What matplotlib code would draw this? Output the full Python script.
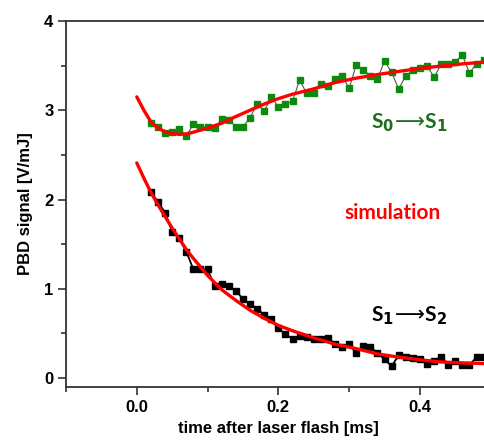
import matplotlib
matplotlib.use("Agg")
import matplotlib.pyplot as plt
from matplotlib.ticker import MultipleLocator

# measured data (time in ms)
t_data = [0.02, 0.03, 0.04, 0.05, 0.06, 0.07, 0.08, 0.09, 0.10, 0.11,
          0.12, 0.13, 0.14, 0.15, 0.16, 0.17, 0.18, 0.19, 0.20, 0.21,
          0.22, 0.23, 0.24, 0.25, 0.26, 0.27, 0.28, 0.29, 0.30, 0.31,
          0.32, 0.33, 0.34, 0.35, 0.36, 0.37, 0.38, 0.39, 0.40, 0.41,
          0.42, 0.43, 0.44, 0.45, 0.46, 0.47, 0.48, 0.49]

s0s1 = [2.854, 2.809, 2.748, 2.760, 2.790, 2.715, 2.843, 2.812, 2.816, 2.801,
        2.899, 2.891, 2.816, 2.816, 2.917, 3.070, 2.992, 3.145, 3.040, 3.070,
        3.100, 3.339, 3.190, 3.190, 3.291, 3.275, 3.347, 3.387, 3.246, 3.507,
        3.451, 3.387, 3.350, 3.552, 3.425, 3.238, 3.387, 3.448, 3.470, 3.499,
        3.369, 3.515, 3.515, 3.544, 3.619, 3.417, 3.522, 3.560]

s1s2 = [2.087, 1.975, 1.852, 1.639, 1.565, 1.415, 1.218, 1.218, 1.218, 1.031,
        1.053, 1.031, 0.978, 0.885, 0.829, 0.777, 0.706, 0.658, 0.557, 0.493,
        0.440, 0.471, 0.456, 0.440, 0.440, 0.452, 0.381, 0.347, 0.381, 0.277,
        0.359, 0.344, 0.283, 0.210, 0.134, 0.254, 0.232, 0.224, 0.210, 0.157,
        0.194, 0.239, 0.149, 0.187, 0.149, 0.149, 0.232, 0.239]

# simulation curves
t_sim = [0.00, 0.01, 0.02, 0.03, 0.04, 0.05, 0.06, 0.07, 0.08, 0.10,
         0.12, 0.14, 0.16, 0.18, 0.20, 0.22, 0.25, 0.28, 0.31, 0.34,
         0.37, 0.40, 0.43, 0.46, 0.50]
sim_s0s1 = [3.15, 3.00, 2.87, 2.80, 2.76, 2.74, 2.73, 2.735, 2.755, 2.80,
            2.855, 2.93, 3.00, 3.07, 3.13, 3.18, 3.24, 3.31, 3.36, 3.40,
            3.435, 3.47, 3.495, 3.52, 3.545]
sim_s1s2 = [2.41, 2.24, 2.08, 1.94, 1.81, 1.68, 1.56, 1.44, 1.34, 1.15,
            0.99, 0.87, 0.76, 0.67, 0.59, 0.53, 0.45, 0.38, 0.33, 0.27,
            0.235, 0.205, 0.18, 0.17, 0.16]

x_ticks = [0.0, 0.2, 0.4]
x_ticklabels = ["0.0", "0.2", "0.4"]
y_ticks = [0, 1, 2, 3, 4]
y_ticklabels = ["0", "1", "2", "3", "4"]

fig = plt.figure(figsize=(4.84, 4.41), dpi=100)
ax = fig.add_axes([66 / 484, 54 / 441, 424.7 / 484, 366 / 441])

ax.plot(t_data, s0s1, color="#555555", lw=0.8, marker="s", ms=4.4,
        mfc="#0b8a0b", mec="#0b8a0b", zorder=3)
ax.plot(t_data, s1s2, color="black", lw=1.3, marker="s", ms=4.4,
        mfc="black", mec="black", zorder=3)
ax.plot(t_sim, sim_s0s1, color="#ff0000", lw=2.4, zorder=4,
        solid_capstyle="round", solid_joinstyle="round")
ax.plot(t_sim, sim_s1s2, color="#ff0000", lw=2.4, zorder=4,
        solid_capstyle="round", solid_joinstyle="round")

ax.set_xlim(-0.1, 0.5)
ax.set_ylim(-0.1, 4.0)
ax.set_xticks(x_ticks)
ax.set_xticklabels(x_ticklabels)
ax.set_yticks(y_ticks)
ax.set_yticklabels(y_ticklabels)
ax.xaxis.set_minor_locator(MultipleLocator(0.1))
ax.yaxis.set_minor_locator(MultipleLocator(0.5))

for s in ax.spines.values():
    s.set_linewidth(1.3)
    s.set_color("#333333")

ax.tick_params(which="major", direction="out", length=6, width=1.2,
               color="#333333", labelsize=12, pad=3)
ax.tick_params(which="minor", direction="out", length=3.5, width=1.2,
               color="#333333")
ax.tick_params(top=False, right=False, which="both")
for lab in ax.get_xticklabels() + ax.get_yticklabels():
    lab.set_fontweight("bold")
    lab.set_family("Liberation Sans")

ax.set_xlabel("time after laser flash [ms]", fontsize=12, fontweight="bold",
              family="Liberation Sans", labelpad=5)
ax.set_ylabel("PBD signal [V/mJ]", fontsize=12, fontweight="bold",
              family="Liberation Sans", labelpad=8)

ax.text(0.385, 2.86, r"S$_\mathbf{0}\!\longrightarrow\!$S$_\mathbf{1}$", color="#1f6e1f",
        fontsize=15, fontweight="bold", family="Lato", ha="center", va="center")
ax.text(0.362, 1.85, "simulation", color="#ff0000",
        fontsize=15, fontweight="bold", family="Lato", ha="center", va="center")
ax.text(0.385, 0.70, r"S$_\mathbf{1}\!\longrightarrow\!$S$_\mathbf{2}$", color="black",
        fontsize=15, fontweight="bold", family="Lato", ha="center", va="center")

fig.savefig("out.png", dpi=100)
